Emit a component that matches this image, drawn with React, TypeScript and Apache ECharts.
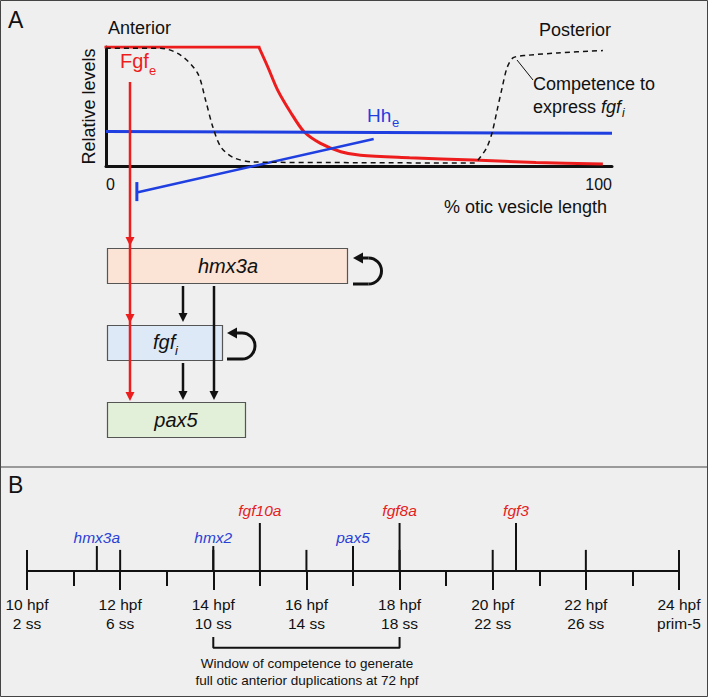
import React, { useEffect, useRef } from "react";
import * as echarts from "echarts";

// ---------- Panel A: relative levels along the otic vesicle (% length) ----------
const fgfPlateau: number[][] = [[0, 1], [30.2, 1]];
const fgfDecay: number[][] = [
  [30.2, 1], [32, 0.83], [33.9, 0.64], [36.5, 0.45], [39.1, 0.29], [42.4, 0.19],
  [46.4, 0.12], [50.3, 0.09], [60, 0.07], [72.6, 0.05], [85, 0.03], [98.2, 0.017],
];
const hhLevel: number[][] = [[0, 0.29], [100, 0.275]];
const hhRepression: number[][] = [[6.3, -0.22], [52.9, 0.227]];
const hhRepressionBar: number[][] = [[6.1, -0.135], [6.1, -0.295]];
const competence: number[][] = [
  [0, 0.99], [10.8, 0.99], [14.8, 0.93], [18.1, 0.78], [19.7, 0.55], [21.1, 0.33],
  [22.7, 0.16], [25.2, 0.07], [29.2, 0.034], [50, 0.028], [72.6, 0.025], [74, 0.076],
  [75.3, 0.16], [76.3, 0.28], [77.3, 0.47], [78.3, 0.66], [79.3, 0.83], [80.5, 0.91],
  [83.2, 0.93], [89.2, 0.95], [98.2, 0.97],
];
const lengthTicks = [0, 100];

// ---------- Panel B: timeline ----------
const hourTicks = [10, 12, 14, 16, 18, 20, 22, 24];
const hpfLabels = ["10 hpf", "12 hpf", "14 hpf", "16 hpf", "18 hpf", "20 hpf", "22 hpf", "24 hpf"];
const stageLabels = ["2 ss", "6 ss", "10 ss", "14 ss", "18 ss", "22 ss", "26 ss", "prim-5"];
const genes = ["hmx3a", "hmx2", "fgf10a", "pax5", "fgf8a", "fgf3"];
const geneOnsetHpf = [11.5, 14, 15, 17, 18, 20.5];
const geneIsFgf = [false, false, true, false, true, true];
const competenceWindowHpf = [14, 18];

const FONT = '"Liberation Sans", Arial, Helvetica, sans-serif';
const RED = "#ee1d1d";
const BLUE = "#1f3fe0";
const BLUE_TXT = "#2a3fd6";
const RED_TXT = "#e42222";
const INK = "#111111";

function txt(text: string, x: number, y: number, size: number, opts: any = {}) {
  return {
    type: "text",
    x,
    y,
    z: 50,
    silent: true,
    style: {
      text,
      fill: opts.fill || INK,
      fontSize: size,
      fontFamily: FONT,
      fontStyle: opts.italic ? "italic" : "normal",
      align: opts.align || "left",
      verticalAlign: "middle",
      lineHeight: opts.lineHeight,
    },
  };
}

function line(x1: number, y1: number, x2: number, y2: number, color: string, w: number, z = 40) {
  return {
    type: "line",
    z,
    silent: true,
    shape: { x1, y1, x2, y2 },
    style: { stroke: color, lineWidth: w },
  };
}

function head(x: number, tip: number, color: string, z = 41) {
  return {
    type: "polygon",
    z,
    silent: true,
    shape: { points: [[x - 4.5, tip - 9], [x + 4.5, tip - 9], [x, tip]] },
    style: { fill: color },
  };
}

function downArrow(x: number, y1: number, tip: number, color: string) {
  return [line(x, y1, x, tip - 6, color, 2.5), head(x, tip, color)];
}

function loop(cx: number, cy: number, r: number, left: number) {
  return [
    line(left + 8, cy - r, cx, cy - r, INK, 3),
    {
      type: "arc",
      z: 40,
      silent: true,
      shape: { cx, cy, r, startAngle: -Math.PI / 2, endAngle: Math.PI / 2, clockwise: true },
      style: { stroke: INK, lineWidth: 3, fill: "none" },
    },
    line(cx, cy + r, left, cy + r, INK, 3),
    {
      type: "polygon",
      z: 41,
      silent: true,
      shape: { points: [[left, cy - r], [left + 10, cy - r - 5.5], [left + 10, cy - r + 5.5]] },
      style: { fill: INK },
    },
  ];
}

function box(x: number, y: number, w: number, h: number, fill: string) {
  return {
    type: "rect",
    z: 20,
    silent: true,
    shape: { x: x + 0.5, y: y + 0.5, width: w, height: h },
    style: { fill, stroke: "#555", lineWidth: 1.2 },
  };
}

const lineBase = { type: "line", symbol: "none", silent: true, xAxisIndex: 0, yAxisIndex: 0 };

const option: any = {
  animation: false,
  backgroundColor: "#efefef",
  grid: [
    { left: 106, right: 96, top: 47, bottom: 531, outerBoundsMode: "none", containLabel: false },
    { left: 27, right: 29, top: 523, bottom: 126, outerBoundsMode: "none", containLabel: false },
  ],
  xAxis: [
    {
      type: "value",
      gridIndex: 0,
      min: lengthTicks[0],
      max: lengthTicks[1],
      interval: lengthTicks[1] - lengthTicks[0],
      axisLine: { show: true, onZero: true, lineStyle: { color: INK, width: 3 } },
      axisTick: { show: false },
      splitLine: { show: false },
      axisLabel: {
        show: true,
        color: INK,
        fontSize: 16,
        fontFamily: FONT,
        margin: 10,
        alignMinLabel: "left",
        alignMaxLabel: "right",
      },
    },
    {
      type: "value",
      gridIndex: 1,
      min: hourTicks[0],
      max: hourTicks[hourTicks.length - 1],
      interval: 2,
      axisLine: { show: true, lineStyle: { color: INK, width: 2 } },
      axisTick: { show: true, length: 19, lineStyle: { color: INK, width: 2 } },
      minorTick: { show: true, splitNumber: 2, length: 15, lineStyle: { color: INK, width: 2 } },
      splitLine: { show: false },
      minorSplitLine: { show: false },
      axisLabel: {
        show: true,
        color: INK,
        fontSize: 15.5,
        fontFamily: FONT,
        lineHeight: 19,
        margin: 24,
        formatter: (v: number) => {
          const i = hourTicks.indexOf(v);
          return i < 0 ? "" : hpfLabels[i] + "\n" + stageLabels[i];
        },
      },
    },
  ],
  yAxis: [
    {
      type: "value",
      gridIndex: 0,
      min: 0,
      max: 1,
      axisLine: { show: true, lineStyle: { color: INK, width: 3 } },
      axisTick: { show: false },
      axisLabel: { show: false },
      splitLine: { show: false },
      name: "Relative levels",
      nameLocation: "middle",
      nameGap: 8,
      nameTextStyle: { color: INK, fontSize: 18, fontFamily: FONT },
    },
    {
      type: "value",
      gridIndex: 1,
      min: 0,
      max: 1,
      show: false,
    },
  ],
  series: [
    { ...lineBase, name: "Fgfe plateau", data: fgfPlateau, lineStyle: { color: RED, width: 3, cap: "square" } },
    { ...lineBase, name: "Fgfe", data: fgfDecay, smooth: 0.3, lineStyle: { color: RED, width: 3 } },
    { ...lineBase, name: "Hhe", data: hhLevel, lineStyle: { color: BLUE, width: 3 } },
    { ...lineBase, name: "Hhe repression", data: hhRepression, clip: false, lineStyle: { color: BLUE, width: 2.5 } },
    { ...lineBase, name: "Hhe bar", data: hhRepressionBar, clip: false, lineStyle: { color: BLUE, width: 3 } },
    {
      ...lineBase,
      name: "Competence",
      data: competence,
      smooth: 0.3,
      lineStyle: { color: INK, width: 1.5, type: [5, 4] },
    },
    {
      type: "bar",
      name: "major ticks",
      xAxisIndex: 1,
      yAxisIndex: 1,
      silent: true,
      clip: false,
      barWidth: 2,
      barGap: "-100%",
      itemStyle: { color: INK },
      data: hourTicks.map((h) => [h, 0.44]),
    },
    {
      type: "bar",
      name: "onset",
      xAxisIndex: 1,
      yAxisIndex: 1,
      silent: true,
      clip: false,
      barWidth: 2,
      barGap: "-100%",
      itemStyle: { color: INK },
      label: {
        show: true,
        position: "top",
        fontSize: 15.5,
        fontFamily: FONT,
        fontStyle: "italic",
        formatter: (p: any) => genes[p.dataIndex],
      },
      data: genes.map((g, i) => ({
        value: [geneOnsetHpf[i], geneIsFgf[i] ? 1 : 0.52],
        label: { color: geneIsFgf[i] ? RED_TXT : BLUE_TXT, distance: geneIsFgf[i] ? 5 : 1 },
      })),
    },
    {
      type: "line",
      name: "competence window",
      xAxisIndex: 1,
      yAxisIndex: 1,
      symbol: "none",
      silent: true,
      clip: false,
      lineStyle: { color: INK, width: 2 },
      data: [
        [competenceWindowHpf[0], -1.375],
        [competenceWindowHpf[0], -1.6],
        [competenceWindowHpf[1], -1.6],
        [competenceWindowHpf[1], -1.375],
      ],
    },
  ],
  graphic: [
    {
      type: "rect",
      z: 100,
      silent: true,
      shape: { x: 0.5, y: 0.5, width: 707, height: 696 },
      style: { fill: "none", stroke: "#444", lineWidth: 1 },
    },
    line(0, 467, 708, 467, "#9a9a9a", 2),
    txt("A", 8, 20, 23),
    txt("B", 8, 485, 23),
    txt("Anterior", 108, 28, 18),
    txt("Posterior", 539, 30, 18),
    txt("Fgf", 120, 61, 20, { fill: RED }),
    txt("e", 149, 70, 13, { fill: RED }),
    txt("Hh", 367, 115, 19, { fill: BLUE }),
    txt("e", 392, 122, 13, { fill: BLUE }),
    line(517, 60, 533, 80, INK, 1),
    txt("Competence to", 533, 84, 18),
    {
      type: "text",
      x: 533,
      y: 107,
      z: 50,
      silent: true,
      style: {
        text: "express {i|fgf}",
        fill: INK,
        fontSize: 18,
        fontFamily: FONT,
        verticalAlign: "middle",
        rich: { i: { fontStyle: "italic", fontSize: 18, fontFamily: FONT, fill: INK } },
      },
    },
    txt("i", 622, 113, 12, { italic: true }),
    txt("% otic vesicle length", 444, 207, 18),
    // gene regulatory boxes
    box(107, 248, 240, 35, "#fbe4d5"),
    box(107, 325, 115, 35, "#dde9f6"),
    box(107, 402, 138, 35, "#e2efd9"),
    txt("hmx3a", 228, 266, 20, { italic: true, align: "center" }),
    txt("fgf", 153, 342, 20, { italic: true }),
    txt("i", 175, 350, 13, { italic: true }),
    txt("pax5", 176, 420, 20, { italic: true, align: "center" }),
    // Fgf_e arrow
    line(130, 82, 130, 396, RED, 2.5),
    head(130, 246, RED),
    head(130, 323, RED),
    head(130, 401, RED),
    // black arrows
    ...downArrow(183, 286, 322, INK),
    ...downArrow(183, 363, 400, INK),
    ...downArrow(214, 286, 400, INK),
    ...loop(368.5, 271, 13, 353),
    ...loop(242, 346, 13, 227),
    // caption of competence window
    {
      type: "text",
      x: 307,
      y: 671.5,
      z: 50,
      silent: true,
      style: {
        text: "Window of competence to generate\nfull otic anterior duplications at 72 hpf",
        fill: INK,
        fontSize: 13.5,
        fontFamily: FONT,
        align: "center",
        verticalAlign: "middle",
        lineHeight: 17,
      },
    },
  ],
};

export default function App() {
  const ref = useRef<HTMLDivElement>(null);
  useEffect(() => {
    const chart = echarts.init(ref.current as HTMLDivElement, null, { renderer: "svg" });
    chart.setOption(option);
    return () => chart.dispose();
  }, []);
  return (
    <div
      ref={ref}
      style={{ position: "absolute", left: 0, top: 0, width: 708, height: 697 }}
    />
  );
}
